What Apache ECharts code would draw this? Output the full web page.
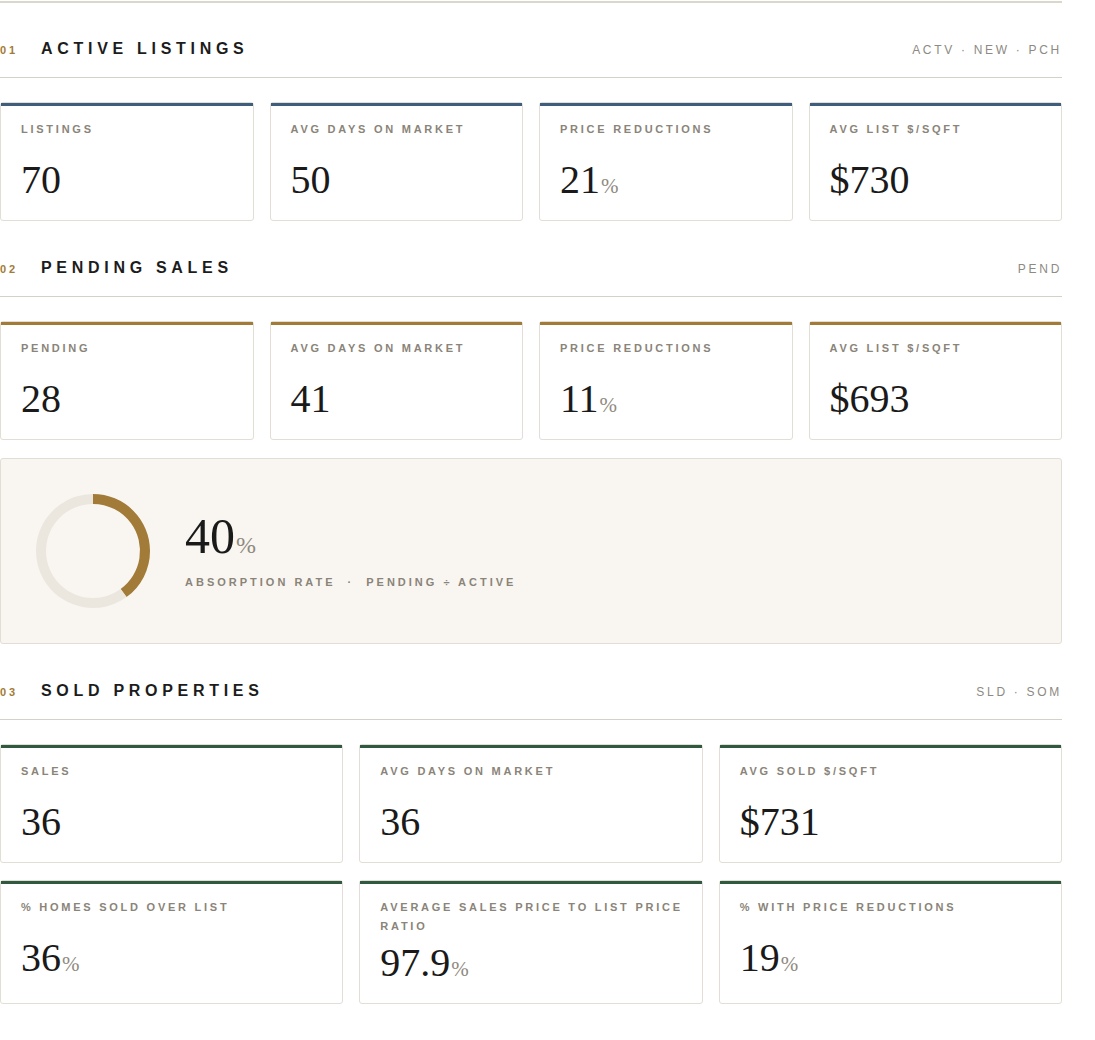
<!DOCTYPE html>
<html>
<head>
<meta charset="utf-8">
<script src="https://cdn.jsdelivr.net/npm/echarts@6/dist/echarts.min.js"></script>
<style>
  html, body { margin: 0; padding: 0; background: #fff; }
  body { font-family: "Liberation Sans", Arial, sans-serif; color: #1c1c1c; }
  .wrap { width: 1062px; margin-top: 1px; border-top: 2px solid #dad7cb; }
  .head {
    display: flex; align-items: baseline;
    padding-top: 37px; padding-bottom: 18px; line-height: 20px;
    border-bottom: 1px solid #d4d1c6;
  }
  .head.first { padding-top: 36px; }
  .head .no { width: 41px; font-size: 11px; line-height: 1; font-weight: bold; letter-spacing: 3px; color: #a17b37; }
  .head .title { font-size: 16px; font-weight: bold; letter-spacing: 4.7px; color: #1c1c1c; }
  .head .tag { margin-left: auto; font-size: 12px; line-height: 1; letter-spacing: 2.7px; color: #8d8a82; }
  .grid { display: grid; margin-top: 24px; column-gap: 16px; row-gap: 17px; }
  .grid.c4 { grid-template-columns: repeat(4, 1fr); }
  .grid.c3 { grid-template-columns: repeat(3, 1fr); }
  .card {
    position: relative; box-sizing: border-box;
    border: 1px solid #e2ded5; border-radius: 3px; background: #fff;
    padding: 17px 14px 20px 20px;
  }
  .card .bar { position: absolute; left: 0; right: 0; top: 0; height: 2.5px; }
  .card .lbl {
    min-height: 33px; font-size: 11px; line-height: 19px; font-weight: bold;
    letter-spacing: 2.75px; color: #8a8479;
  }
  .card .val {
    margin-top: 7px; font-family: "Liberation Serif", "Times New Roman", serif;
    font-size: 40px; line-height: 40px; height: 40px; color: #1a1a1a; white-space: nowrap;
  }
  .unit { font-size: 21px; line-height: 0; color: #8f8a80; margin-left: 1px; }
  .panel {
    position: relative; box-sizing: border-box; height: 186px; margin-top: 18px;
    background: #f9f6f1; border: 1px solid #e2ded5; border-radius: 3px;
  }
  #donut { position: absolute; left: 22px; top: 22px; width: 140px; height: 140px; }
  .panel .big {
    position: absolute; left: 184px; top: 52px;
    font-family: "Liberation Serif", "Times New Roman", serif;
    font-size: 50px; line-height: 50px; color: #1a1a1a; white-space: nowrap;
  }
  .panel .big .unit { font-size: 24px; }
  .panel .sub {
    position: absolute; left: 184px; top: 115.5px;
    font-size: 11px; line-height: 14px; font-weight: bold; letter-spacing: 3px; color: #8a8479;
    white-space: nowrap;
  }
  .panel .sub .dot { margin: 0 12px; }
</style>
</head>
<body>
<div class="wrap" id="page"></div>
<script>
// section headers
var sectionNumbers = ['01', '02', '03'];
var sectionTitles = ['ACTIVE LISTINGS', 'PENDING SALES', 'SOLD PROPERTIES'];
var sectionTags = ['ACTV · NEW · PCH', 'PEND', 'SLD · SOM'];

// active listings
var activeLabels = ['LISTINGS', 'AVG DAYS ON MARKET', 'PRICE REDUCTIONS', 'AVG LIST $/SQFT'];
var activeValues = [70, 50, 21, 730];
var activeFormats = ['num', 'num', 'pct', 'usd'];

// pending sales
var pendingLabels = ['PENDING', 'AVG DAYS ON MARKET', 'PRICE REDUCTIONS', 'AVG LIST $/SQFT'];
var pendingValues = [28, 41, 11, 693];
var pendingFormats = ['num', 'num', 'pct', 'usd'];

// absorption
var absorptionRate = 40;
var absorptionText = ['ABSORPTION RATE', 'PENDING ÷ ACTIVE'];

// sold
var soldLabels = ['SALES', 'AVG DAYS ON MARKET', 'AVG SOLD $/SQFT',
  '% HOMES SOLD OVER LIST', 'AVERAGE SALES PRICE TO LIST PRICE RATIO', '% WITH PRICE REDUCTIONS'];
var soldValues = [36, 36, 731, 36, 97.9, 19];
var soldFormats = ['num', 'num', 'usd', 'pct', 'pct', 'pct'];

var accents = ['#3f5d7d', '#a17b37', '#2f5a40'];
var gold = '#a17b37';
var track = '#ebe7df';

function fmt(v, f) {
  if (f === 'usd') return '$' + v;
  if (f === 'pct') return v + '<span class="unit">%</span>';
  return String(v);
}

function header(i) {
  return '<div class="head' + (i === 0 ? ' first' : '') + '"><span class="no">' + sectionNumbers[i] + '</span>' +
    '<span class="title">' + sectionTitles[i] + '</span>' +
    '<span class="tag">' + sectionTags[i] + '</span></div>';
}

function cards(labels, values, formats, color, cols) {
  var h = '<div class="grid c' + cols + '">';
  for (var i = 0; i < labels.length; i++) {
    h += '<div class="card"><div class="bar" style="background:' + color + '"></div>' +
      '<div class="lbl">' + labels[i] + '</div>' +
      '<div class="val">' + fmt(values[i], formats[i]) + '</div></div>';
  }
  return h + '</div>';
}

var html = '';
html += header(0) + cards(activeLabels, activeValues, activeFormats, accents[0], 4);
html += header(1) + cards(pendingLabels, pendingValues, pendingFormats, accents[1], 4);
html += '<div class="panel"><div id="donut"></div>' +
  '<div class="big">' + absorptionRate + '<span class="unit">%</span></div>' +
  '<div class="sub">' + absorptionText[0] + '<span class="dot">·</span>' + absorptionText[1] + '</div></div>';
html += header(2) + cards(soldLabels, soldValues, soldFormats, accents[2], 3);
document.getElementById('page').innerHTML = html;

// absorption ring
var chart = echarts.init(document.getElementById('donut'));
chart.setOption({
  animation: false,
  series: [{
    type: 'pie',
    radius: [47, 57],
    center: ['50%', '50%'],
    startAngle: 90,
    clockwise: true,
    silent: true,
    label: { show: false },
    labelLine: { show: false },
    itemStyle: { borderWidth: 0 },
    data: [
      { value: absorptionRate, itemStyle: { color: gold } },
      { value: 100 - absorptionRate, itemStyle: { color: track } }
    ]
  }]
});
</script>
</body>
</html>
